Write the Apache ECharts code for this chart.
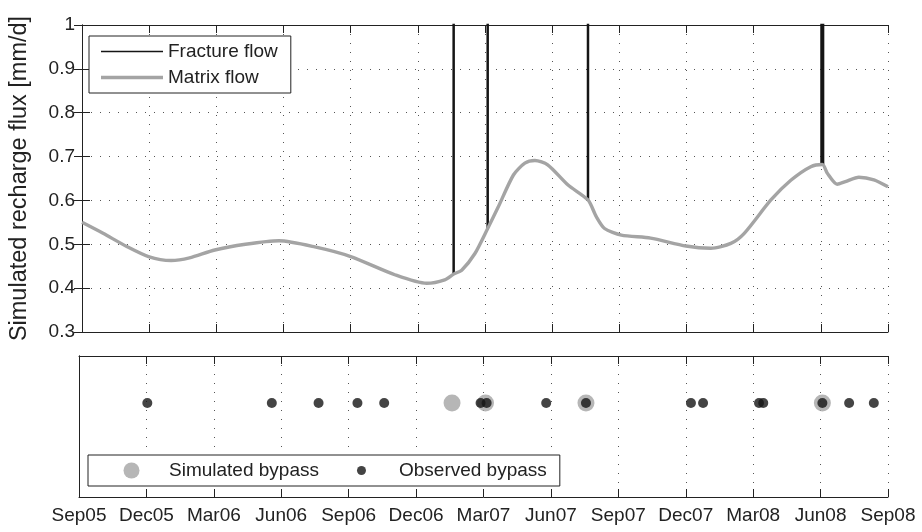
<!DOCTYPE html>
<html>
<head>
<meta charset="utf-8">
<script src="https://cdn.jsdelivr.net/npm/echarts@6/dist/echarts.min.js"></script>
<style>
html,body{margin:0;padding:0;background:#fff;}
#chart{width:922px;height:532px;}
</style>
</head>
<body>
<div id="chart"></div>
<script>
// x values are months since 1 Sep 2005 (fractional)
var xTickLabels = ['Sep05','Dec05','Mar06','Jun06','Sep06','Dec06','Mar07','Jun07','Sep07','Dec07','Mar08','Jun08','Sep08'];

// Matrix flow (simulated recharge flux, mm/d)
var matrixT = [0, 0.94, 2.0, 2.97, 3.98, 4.8, 5.93, 7.3, 8.8, 10.4, 12.0, 14.0, 15.4, 16.2, 16.6, 16.96, 17.55, 18.12, 18.6, 19.27, 19.78, 20.23, 20.8, 21.71, 22.6, 22.97, 23.34, 24.09, 25.4, 26.98, 28.09, 28.98, 29.58, 30.77, 31.66, 32.55, 33.07, 33.29, 33.73, 34.1, 34.7, 35.37, 36];
var matrixV = [0.550, 0.525, 0.495, 0.472, 0.463, 0.469, 0.487, 0.500, 0.508, 0.494, 0.472, 0.430, 0.411, 0.419, 0.432, 0.441, 0.479, 0.536, 0.586, 0.658, 0.685, 0.691, 0.681, 0.635, 0.601, 0.563, 0.536, 0.521, 0.514, 0.496, 0.491, 0.502, 0.525, 0.601, 0.646, 0.677, 0.682, 0.662, 0.637, 0.643, 0.653, 0.647, 0.631];

// Fracture flow pulses: time, base value, peak value (peaks exceed the plotted range)
var fractureT = [16.6, 18.12, 22.6, 33.03, 33.1];
var fractureBase = [0.434, 0.534, 0.601, 0.682, 0.682];
var fracturePeak = [1.5, 1.5, 1.5, 1.5, 1.5];

// Bypass events (bottom panel)
var simulatedT = [16.6, 18.09, 22.56, 33.08];
var observedT = [3.04, 8.58, 10.66, 12.39, 13.58, 17.87, 18.14, 20.79, 22.56, 27.23, 27.77, 30.26, 30.45, 33.08, 34.27, 35.37];
var eventLevel = 1;

var FONT = 'Liberation Sans, Arial, Helvetica, sans-serif';
var INK = '#222';
var GRAY = '#a4a4a4';
var DARK = '#151515';
var dotted = {color: '#555', width: 1, type: [1, 8]};

var matrixData = matrixT.map(function (t, i) { return [t, matrixV[i]]; });
var fractureData = [];
fractureT.forEach(function (t, i) {
  fractureData.push([t, fractureBase[i]]);
  fractureData.push([t, fracturePeak[i]]);
  fractureData.push([t, '-']);
});
var simData = simulatedT.map(function (t) { return [t, eventLevel]; });
var obsData = observedT.map(function (t) { return [t, eventLevel]; });

function xAxis(gridIndex, position, showLabels, showSplit) {
  return {
    type: 'value', gridIndex: gridIndex, position: position,
    min: 0, max: 36, interval: 3,
    axisLine: {show: true, onZero: false, lineStyle: {color: INK, width: 1}},
    axisTick: {show: true, inside: true, length: 8, lineStyle: {color: INK}},
    axisLabel: {show: showLabels, margin: 9, color: INK, fontSize: 19, fontFamily: FONT,
      formatter: function (v) { return xTickLabels[Math.round(v / 3)]; }},
    splitLine: {show: showSplit, lineStyle: dotted}
  };
}

var option = {
  animation: false,
  backgroundColor: '#fff',
  grid: [
    {left: 79, right: 34, top: 25, height: 307},
    {left: 79, right: 34, top: 356, height: 141}
  ],
  xAxis: [
    xAxis(0, 'bottom', false, true),
    xAxis(0, 'top', false, false),
    xAxis(1, 'bottom', true, true),
    xAxis(1, 'top', false, false)
  ],
  yAxis: [
    {type: 'value', gridIndex: 0, position: 'left', min: 0.3, max: 1, interval: 0.1,
     name: 'Simulated recharge flux [mm/d]', nameLocation: 'middle', nameGap: 50,
     nameTextStyle: {fontSize: 23.5, color: INK, fontFamily: FONT},
     axisLine: {show: true, lineStyle: {color: INK}},
     axisTick: {show: true, inside: true, length: 8, lineStyle: {color: INK}},
     axisLabel: {color: INK, fontSize: 19, fontFamily: FONT, margin: 7},
     splitLine: {show: true, lineStyle: dotted}},
    {type: 'value', gridIndex: 0, position: 'right', min: 0.3, max: 1, interval: 0.1,
     axisLine: {show: true, lineStyle: {color: INK}},
     axisTick: {show: true, inside: true, length: 8, lineStyle: {color: INK}},
     axisLabel: {show: false}, splitLine: {show: false}},
    {type: 'value', gridIndex: 1, position: 'left', min: 0, max: 1.5,
     axisLine: {show: true, lineStyle: {color: INK}},
     axisTick: {show: false}, axisLabel: {show: false}, splitLine: {show: false}},
    {type: 'value', gridIndex: 1, position: 'right', min: 0, max: 1.5,
     axisLine: {show: true, lineStyle: {color: INK}},
     axisTick: {show: false}, axisLabel: {show: false}, splitLine: {show: false}}
  ],
  legend: [
    {orient: 'vertical', left: 89, top: 36, padding: [6, 13, 6, 12],
     itemWidth: 62, itemHeight: 14, itemGap: 7,
     borderColor: INK, borderWidth: 1, backgroundColor: '#fff',
     selectedMode: false,
     textStyle: {fontSize: 19, lineHeight: 19, color: INK, fontFamily: FONT},
     data: [
       {name: 'Fracture flow', icon: 'path://M0,0M62,14M0,6.2L62,6.2L62,7.8L0,7.8Z'},
       {name: 'Matrix flow', icon: 'path://M0,0M62,14M0,5.3L62,5.3L62,8.7L0,8.7Z'}
     ]},
    {orient: 'horizontal', left: 88, top: 455, padding: [6, 13, 6, 11],
     itemWidth: 65, itemHeight: 16, itemGap: 10,
     borderColor: INK, borderWidth: 1, backgroundColor: '#fff',
     selectedMode: false,
     textStyle: {fontSize: 19, lineHeight: 19, color: INK, fontFamily: FONT},
     data: [
       {name: 'Simulated bypass', icon: 'path://M0,0M65,16M24.5,8A8,8 0 1,1 40.5,8A8,8 0 1,1 24.5,8Z'},
       {name: 'Observed bypass', icon: 'path://M0,0M65,16M28,8A4.5,4.5 0 1,1 37,8A4.5,4.5 0 1,1 28,8Z'}
     ]}
  ],
  series: [
    {name: 'Fracture flow', type: 'line', xAxisIndex: 0, yAxisIndex: 0,
     data: fractureData, symbol: 'none', connectNulls: false, z: 2,
     color: DARK, lineStyle: {color: DARK, width: 2.5}},
    {name: 'Matrix flow', type: 'line', xAxisIndex: 0, yAxisIndex: 0,
     data: matrixData, symbol: 'none', smooth: 0.25, z: 3,
     color: GRAY, lineStyle: {color: GRAY, width: 3.4}},
    {name: 'Simulated bypass', type: 'scatter', xAxisIndex: 2, yAxisIndex: 2,
     data: simData, symbol: 'circle', symbolSize: 17, z: 3,
     itemStyle: {color: GRAY}},
    {name: 'Observed bypass', type: 'scatter', xAxisIndex: 2, yAxisIndex: 2,
     data: obsData, symbol: 'circle', symbolSize: 10, z: 4,
     itemStyle: {color: DARK}}
  ]
};

var chart = echarts.init(document.getElementById('chart'), null, {renderer: 'canvas'});
chart.setOption(option);
</script>
</body>
</html>
